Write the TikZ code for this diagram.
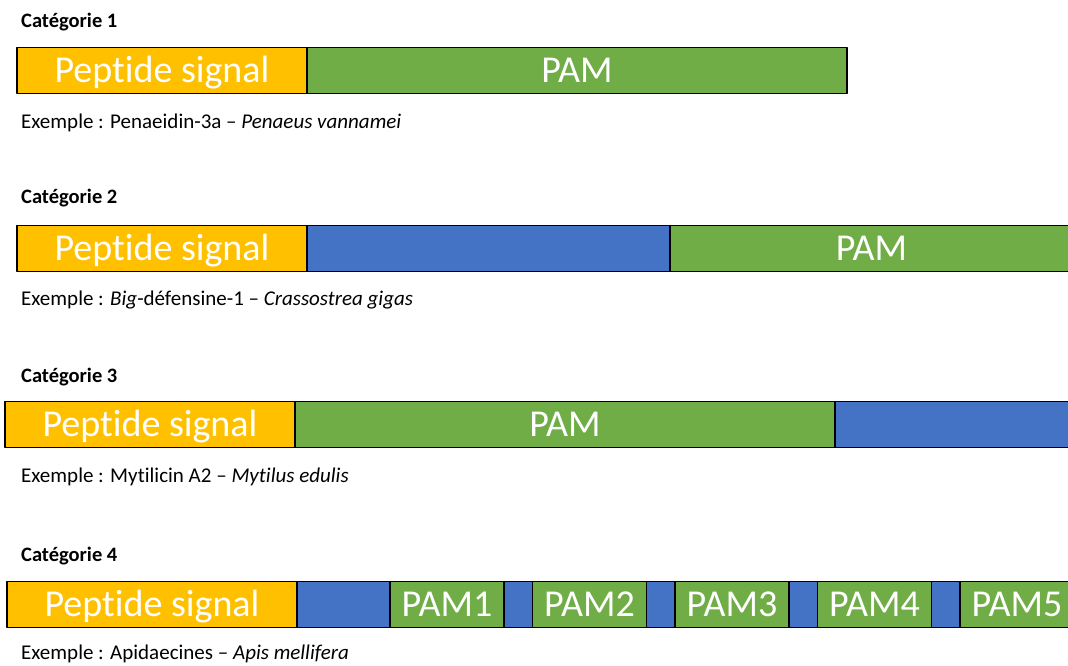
\documentclass[tikz,border=0pt]{standalone}
\usepackage{fontspec}
\setmainfont{Carlito}[Ligatures=NoCommon]
\usetikzlibrary{positioning}
\definecolor{sigyellow}{HTML}{FFC000}
\definecolor{pamgreen}{HTML}{70AD47}
\definecolor{problue}{HTML}{4472C4}
\begin{document}
\begin{tikzpicture}[x=1pt, y=-1pt, line join=round,
	seg/.style={draw=black, line width=1.5pt, minimum height=46pt, inner sep=0pt, outer sep=0pt,
		text height=31pt, text depth=8pt, text=white, font=\fontsize{38}{38}\selectfont},
	sig/.style={seg, fill=sigyellow, minimum width=#1},
	pam/.style={seg, fill=pamgreen, minimum width=#1},
	pro/.style={seg, fill=problue, minimum width=#1},
	cat/.style={anchor=base west, inner sep=0pt, font=\fontsize{20.5}{20.5}\selectfont\bfseries},
	ex/.style={anchor=base west, inner sep=0pt, font=\fontsize{21}{21}\selectfont}]
	\useasboundingbox (0,0) rectangle (1068,665);
	\clip (0,0) rectangle (1068,665);
	% Categorie 1
	\node[cat] (cat1) at (21,27) {Catégorie 1};
	\node[sig=290pt] (ps1) at (162,70.5) {Peptide signal};
	\node[pam=540pt, right=0pt of ps1] (pam1a) {PAM};
	\node[ex] (ex1) at (21,128) {Exemple : Penaeidin-3a – \textit{Penaeus vannamei}};
	% Categorie 2
	\node[cat] (cat2) at (21,203) {Catégorie 2};
	\node[sig=290pt] (ps2) at (162,248.5) {Peptide signal};
	\node[pro=363pt, right=0pt of ps2] (pro2) {};
	\node[pam=403pt, right=0pt of pro2] (pam2a) {PAM};
	\node[ex] (ex2) at (21,305) {Exemple : \textit{Big}-défensine-1 – \textit{Crassostrea gigas}};
	% Categorie 3
	\node[cat] (cat3) at (21,382) {Catégorie 3};
	\node[sig=290pt] (ps3) at (150,424.5) {Peptide signal};
	\node[pam=540pt, right=0pt of ps3] (pam3a) {PAM};
	\node[pro=239pt, right=0pt of pam3a] (pro3) {};
	\node[ex] (ex3) at (21,482) {Exemple : Mytilicin A2 – \textit{Mytilus edulis}};
	% Categorie 4
	\node[cat] (cat4) at (21,561) {Catégorie 4};
	\node[sig=290pt] (ps4) at (152,604.5) {Peptide signal};
	\node[pro=93pt, right=0pt of ps4] (pro4) {};
	\node[pam=114pt, right=0pt of pro4] (pam1) {PAM1};
	\foreach \i [remember=\i as \last (initially 1)] in {2,...,5}{
		\node[pro=28.5pt, right=0pt of pam\last] (lk\last) {};
		\node[pam=114pt, right=0pt of lk\last] (pam\i) {PAM\i};
	}
	\node[ex] (ex4) at (21,659.5) {Exemple : Apidaecines – \textit{Apis mellifera}};
\end{tikzpicture}
\end{document}
